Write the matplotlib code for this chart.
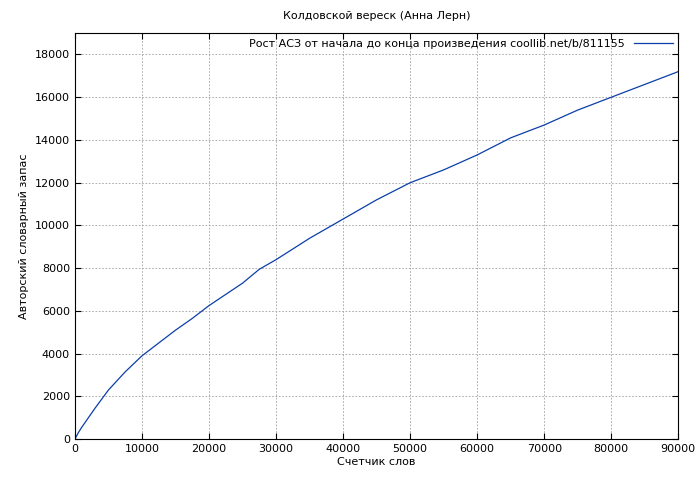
import matplotlib
matplotlib.use('Agg')
import matplotlib.pyplot as plt
import numpy as np

words = [0, 500, 1000, 2000, 3000, 5000, 7500, 10000, 12500, 15000, 17500, 20000, 25000, 27500, 30000,
         35000, 40000, 45000, 50000, 55000, 60000, 65000, 70000, 75000, 80000, 85000, 90000]
vocab = [0, 300, 550, 1000, 1450, 2300, 3150, 3900, 4500, 5100, 5650, 6250, 7300, 7950, 8400,
         9400, 10300, 11200, 12000, 12600, 13300, 14100, 14700, 15400, 16000, 16600, 17200]

plt.rcParams['font.family'] = 'DejaVu Sans'
plt.rcParams['font.size'] = 8
fig = plt.figure(figsize=(7, 4.8), dpi=100)
ax = fig.add_axes([0.107, 0.085, 0.862, 0.846])
ax.plot(words, vocab, color='#0a3fa8', lw=0.9,
        label='Рост АСЗ от начала до конца произведения coollib.net/b/811155')
ax.set_xlim(0, 90000)
ax.set_ylim(0, 19000)
ax.set_xticks(np.arange(0, 90001, 10000))
ax.set_yticks(np.arange(0, 18001, 2000))
ax.grid(True, color='#a0a0a0', linestyle=(0, (2, 2)), lw=0.6)
ax.tick_params(direction='in', length=4, top=True, right=True)
ax.set_title('Колдовской вереск (Анна Лерн)', fontsize=8, pad=10)
ax.set_xlabel('Счетчик слов', labelpad=2)
ax.set_ylabel('Авторский словарный запас')
ax.legend(loc='upper right', frameon=False, markerfirst=False, handlelength=3.5,
          borderaxespad=0.1)
fig.savefig('out.png')
